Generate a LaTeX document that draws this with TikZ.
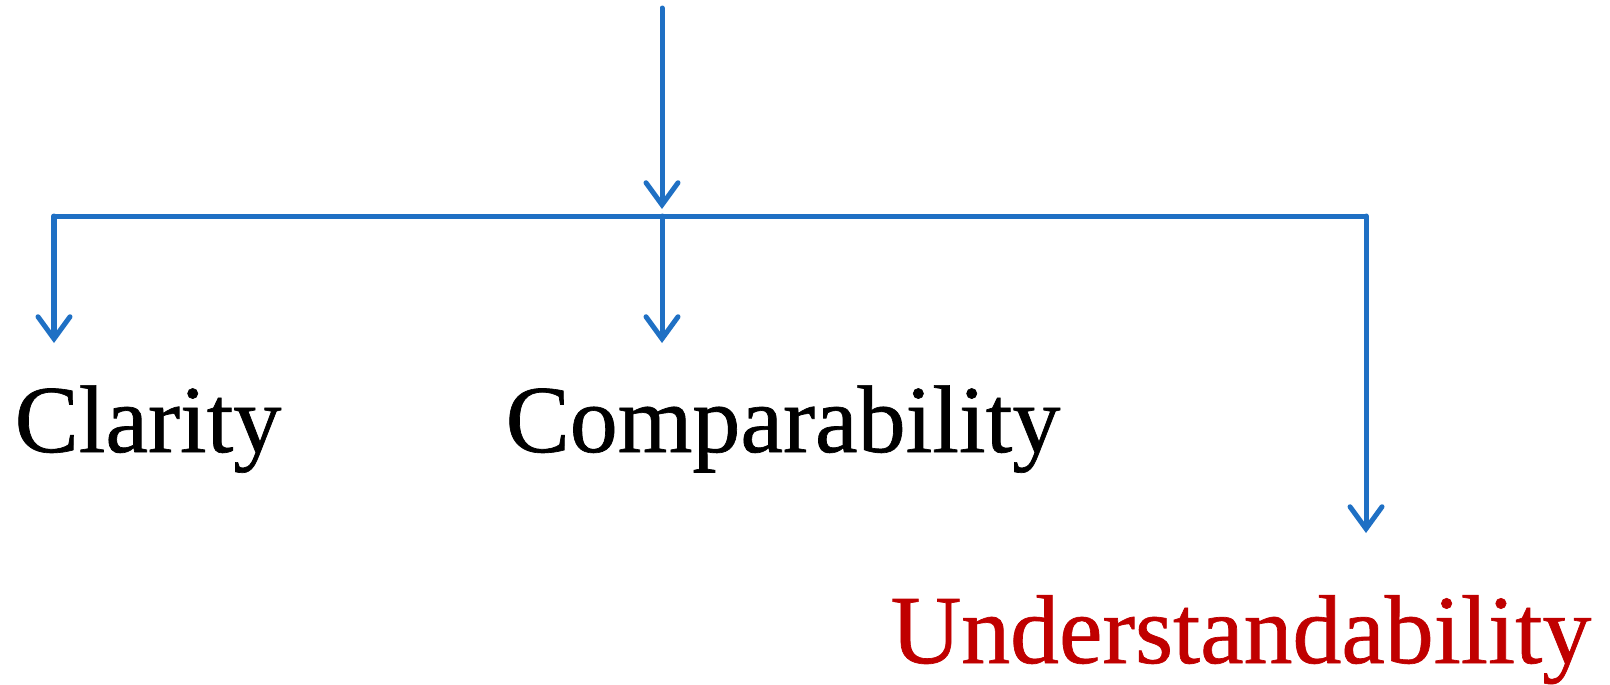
\documentclass[tikz,border=0pt]{standalone}
\usepackage{fontspec}
\setmainfont{Liberation Serif}
\newfontfamily\termfont{Liberation Serif}[FakeBold=0.7]
\usepackage{tikz}
\usetikzlibrary{arrows.meta,positioning}
\definecolor{linkblue}{RGB}{31,112,196}
\definecolor{keyred}{RGB}{192,0,0}

\begin{document}
\begin{tikzpicture}[x=0.01cm, y=-0.01cm,
  link/.style={draw=linkblue, line width=0.05cm, line cap=round,
    -{Straight Barb[length=2.2mm, width=3.2mm, line cap=round]}},
  rail/.style={draw=linkblue, line width=0.05cm},
  term/.style={anchor=base west, inner sep=0pt, font=\fontsize{27.3}{33}\termfont}
]
\useasboundingbox (0,0) rectangle (1610,684);
\coordinate (top) at (662,8);
\coordinate (hub) at (662,216);
\coordinate (railL) at (54,216);
\coordinate (railR) at (1366,216);
\coordinate (tipL) at (54,343);
\coordinate (tipM) at (662,343);
\coordinate (tipR) at (1366,533);
\node[term] (clarity) at (14,452) {Clarity};
\node[term] (compar) at (505,452) {Comparability};
\node[term, text=keyred, font=\fontsize{27.8}{33}\termfont] (underst) at (890,663) {Understandability};
\draw[link] (top) -- ([yshift=0.07cm]hub);
\draw[rail] (railL) -- (railR);
\draw[link] (railL) -- (tipL);
\draw[link] (hub) -- (tipM);
\draw[link] (railR) -- (tipR);
\end{tikzpicture}
\end{document}
